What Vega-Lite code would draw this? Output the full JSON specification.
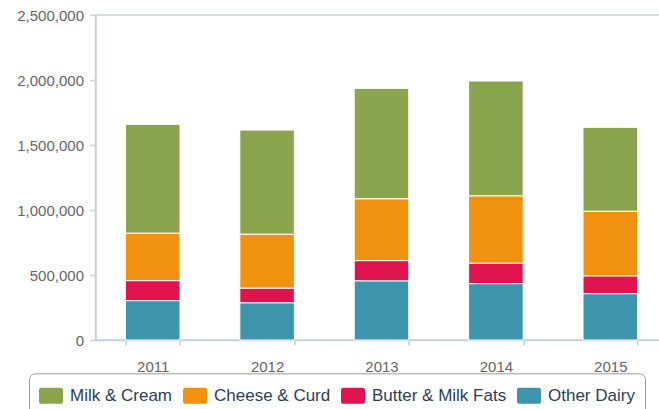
{
  "$schema": "https://vega.github.io/schema/vega-lite/v6.json",
  "autosize": {"type": "none"},
  "padding": {"left": 95.5, "top": 15, "right": 0, "bottom": 69},
  "width": 572,
  "height": 325,
  "background": "white",
  "config": {
    "view": {"stroke": "#C3D1E0", "strokeWidth": 1.5},
    "font": "Liberation Sans"
  },
  "data": {
    "values": [
      {"year": "2011", "type": "Milk & Cream", "value": 838000},
      {"year": "2011", "type": "Cheese & Curd", "value": 365000},
      {"year": "2011", "type": "Butter & Milk Fats", "value": 154000},
      {"year": "2011", "type": "Other Dairy", "value": 302000},
      {"year": "2012", "type": "Milk & Cream", "value": 802000},
      {"year": "2012", "type": "Cheese & Curd", "value": 415000},
      {"year": "2012", "type": "Butter & Milk Fats", "value": 113000},
      {"year": "2012", "type": "Other Dairy", "value": 285000},
      {"year": "2013", "type": "Milk & Cream", "value": 851000},
      {"year": "2013", "type": "Cheese & Curd", "value": 475000},
      {"year": "2013", "type": "Butter & Milk Fats", "value": 156000},
      {"year": "2013", "type": "Other Dairy", "value": 454000},
      {"year": "2014", "type": "Milk & Cream", "value": 884000},
      {"year": "2014", "type": "Cheese & Curd", "value": 518000},
      {"year": "2014", "type": "Butter & Milk Fats", "value": 157000},
      {"year": "2014", "type": "Other Dairy", "value": 433000},
      {"year": "2015", "type": "Milk & Cream", "value": 646000},
      {"year": "2015", "type": "Cheese & Curd", "value": 498000},
      {"year": "2015", "type": "Butter & Milk Fats", "value": 136000},
      {"year": "2015", "type": "Other Dairy", "value": 356000}
    ]
  },
  "transform": [
    {"calculate": "indexof(['Milk & Cream', 'Cheese & Curd', 'Butter & Milk Fats', 'Other Dairy'], datum.type)", "as": "stackOrder"}
  ],
  "mark": {"type": "bar", "stroke": "white", "strokeWidth": 1},
  "encoding": {
    "x": {
      "field": "year",
      "type": "ordinal",
      "scale": {"paddingInner": 0.523, "paddingOuter": 0.2615},
      "axis": {
        "title": null,
        "labelAngle": 0,
        "tickBand": "extent",
        "tickSize": 5,
        "labelPadding": 14,
        "labelFontSize": 15,
        "labelColor": "#666666",
        "labelFont": "Liberation Sans",
        "domainColor": "#C3D1E0",
        "domainWidth": 1.5,
        "tickColor": "#C3D1E0",
        "tickWidth": 1.5
      }
    },
    "y": {
      "field": "value",
      "type": "quantitative",
      "scale": {"domain": [0, 2500000], "nice": false},
      "axis": {
        "title": null,
        "values": [0, 500000, 1000000, 1500000, 2000000, 2500000],
        "format": ",d",
        "grid": false,
        "tickSize": 6,
        "labelPadding": 6,
        "labelFontSize": 15,
        "labelColor": "#666666",
        "labelFont": "Liberation Sans",
        "domainColor": "#C3D1E0",
        "domainWidth": 1.5,
        "tickColor": "#C3D1E0",
        "tickWidth": 1.5
      }
    },
    "order": {"field": "stackOrder", "type": "quantitative", "sort": "descending"},
    "color": {
      "field": "type",
      "type": "nominal",
      "sort": ["Milk & Cream", "Cheese & Curd", "Butter & Milk Fats", "Other Dairy"],
      "scale": {
        "domain": ["Milk & Cream", "Cheese & Curd", "Butter & Milk Fats", "Other Dairy"],
        "range": ["#8AA54E", "#F09110", "#E0134F", "#3D94AD"]
      },
      "legend": {
        "title": null,
        "orient": "none",
        "legendX": -66.5,
        "legendY": 358.3,
        "direction": "horizontal",
        "symbolType": "M-0.82,-0.67 H0.82 A0.18,0.18 0 0 1 1,-0.49 V0.49 A0.18,0.18 0 0 1 0.82,0.67 H-0.82 A0.18,0.18 0 0 1 -1,0.49 V-0.49 A0.18,0.18 0 0 1 -0.82,-0.67 Z",
        "symbolSize": 576,
        "symbolStrokeWidth": 0,
        "symbolOpacity": 1,
        "labelFont": "Liberation Sans",
        "labelFontSize": 17,
        "labelColor": "#2C3E55",
        "labelOffset": 7,
        "columnPadding": 10,
        "padding": 10,
        "strokeColor": "#9A9A9A",
        "cornerRadius": 6,
        "fillColor": "white"
      }
    }
  }
}
